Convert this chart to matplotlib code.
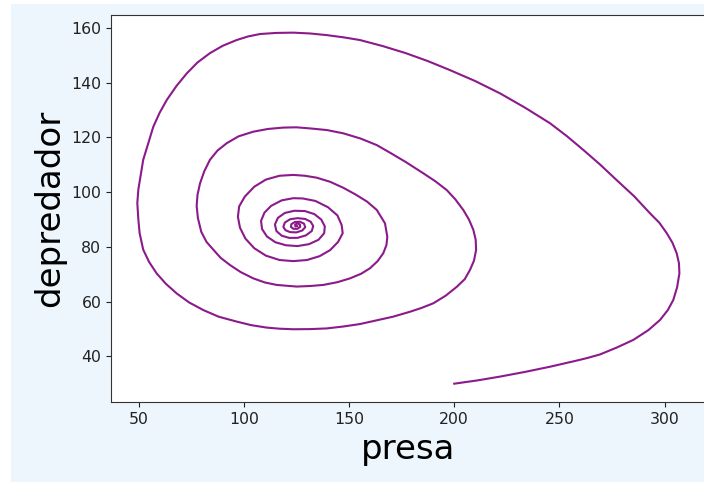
import matplotlib
matplotlib.use('Agg')
import matplotlib.pyplot as plt
from matplotlib.patches import Rectangle

# trajectory, outer turn first, then the inner spiral
presa = [200, 211, 221.8, 233.6, 245.5, 257.4, 263.3, 269.3, 277.2, 285.1, 292.3, 297.8, 301.5,
         304.1, 305.9, 307, 306.8, 305.7, 303.7, 301, 297.5, 293, 285.5, 277.2, 269.3, 261.4,
         253.5, 245.5, 233.6, 221.8, 210, 198, 187.5, 177, 166, 155.2, 147.3, 139.4, 131.5,
         123.5, 115.5, 107.7, 102,
         96.6, 90, 83.9, 78, 72.9, 68, 63.4, 60, 57, 52.2, 49.9, 49.4, 49.9, 50.5, 52.2,
         55, 58.6, 63, 68.1, 74, 80.8, 88, 96.6, 103.5, 110.9, 117, 123.5, 131.5, 139.4,
         147.3, 155.2, 171, 179, 184.5, 190.1, 196, 201.2, 205, 207.5, 209.4, 210.4, 210.2,
         209.1, 207, 204.3, 200.5, 196.4, 191, 185.3, 177, 170, 163.2, 155.5, 147.3, 139.5,
         131.5, 125, 118.8, 111.5, 104.5, 97.5, 91.9, 87.5, 83.9, 81.2,
         79.2, 78, 77.6, 78.2, 79.8, 82.3, 85.5, 89, 93.4, 98.5, 104.5, 110, 115.6,
         125.1, 131.5, 137.8, 144.5, 150.5, 155.8, 160, 163.6, 166.3, 167.8, 168.2,
         167.1, 163.2, 158.5, 153, 147.3, 141, 134.6, 129, 123.5, 117, 110.5, 105,
         100.5, 97.8, 97.2, 98.2, 100.8, 105, 110.5, 117, 123.5, 130, 136, 141, 144.8,
         147, 146.5, 144.5, 140, 134, 128, 123.5, 118, 113, 109.8, 108.2, 108.7, 111,
         115, 120, 125.5, 131, 135.5, 138.2, 138.5, 136.8, 133.5, 129,
         124, 119.5, 116.2, 114.8, 115.5, 118, 121.5, 125.5, 129.5, 132.3, 133, 131.8,
         129.2, 125.5, 122, 119.5, 118.8, 119.8, 122, 125, 127.8, 129.2, 128.6, 126.7,
         124.3, 122.6, 122.4, 123.6, 125.5, 126.8, 126.7, 125.4, 124.4, 124.5, 125.4]
depredador = [30, 31.2, 32.6, 34.3, 36.2, 38.3, 39.4, 40.7, 43.2, 46, 49.6, 53.3, 56.9,
              60.6, 65.2, 70.3, 74, 77.7, 81.5, 85, 88.8, 92.3, 98.5, 104.4, 110.1, 115.4,
              120.5, 125.2, 130.9, 136.1, 140.6, 144.6, 147.9, 150.8, 153.4, 155.6, 156.6, 157.4, 158,
              158.3, 158.2, 157.8, 156.9,
              155.6, 153.5, 150.8, 147.4, 143.4, 138.8, 133.7, 129, 123.9, 111.8, 101, 96, 90, 85, 79,
              74.5, 70.3, 66.5, 63, 59.7, 56.9, 54.5, 52.7, 51.4, 50.5, 50.1, 49.9, 49.95, 50.2,
              50.9, 51.8, 54.5, 56.3, 57.7, 59.4, 62.2, 65.4, 68.2, 71.6, 75, 78.9, 82.6,
              86.2, 90, 93.5, 97.4, 100.8, 104, 106.9, 111, 114.2, 117.2, 119.6, 121.5, 122.7,
              123.3, 123.7, 123.6, 123.1, 122.1, 120.4, 117.9, 115.2, 111.8, 107.6,
              103.2, 99, 95, 90.5, 85.5, 81.8, 79, 76, 73.4, 70.8, 68.5, 67, 66.1,
              65.5, 65.7, 66.1, 67.1, 68.5, 70.2, 72.2, 74.8, 77.7, 80.7, 83.7,
              88.6, 93.5, 96.6, 99.2, 101.6, 103.8, 105.3, 106, 106.3, 106, 104.6, 102,
              98.4, 94.8, 91, 87, 83, 79.5, 76.8, 75.2, 74.8, 75.2, 76.6, 78.8, 81.8,
              85, 88, 91.5, 94.5, 96.8, 97.7, 97.8, 97, 95, 92.5, 89.5, 86.5, 83.8,
              81.7, 80.6, 80.3, 81, 82.6, 85, 87.5, 90, 92, 93.1,
              93.2, 92.4, 90.6, 88.2, 85.8, 84.1, 83.3, 83.3, 84.2, 85.8, 87.6, 89.2,
              90.2, 90.5, 90.1, 88.9, 87.3, 86.1, 85.4, 85.3, 86, 87.2, 88.5, 89.2,
              89.1, 88.3, 87.3, 86.6, 86.6, 87.3, 88.2, 88.6, 88.1, 87.5, 87.6]

fig = plt.figure(figsize=(7.04, 4.84), dpi=100, facecolor='white')
# light blue notebook cell background, kept behind the axes
fig.patches.append(Rectangle((11 / 704, 1 - 482 / 484), 693 / 704, 478 / 484,
                             transform=fig.transFigure, facecolor='#eef6fd',
                             edgecolor='none', zorder=-10))

ax = fig.add_axes([111 / 704, 1 - 402.3 / 484, 594.7 / 704, 387.3 / 484])
ax.set_facecolor('white')
ax.plot(presa, depredador, color='#8b1a8b', lw=1.5)

ax.set_xlim(36.9, 319.5)
ax.set_ylim(23.2, 164.75)
ax.set_xticks([50, 100, 150, 200, 250, 300])
ax.set_yticks([40, 60, 80, 100, 120, 140, 160])
ax.tick_params(labelsize=11.3, colors='#222222')
for s in ax.spines.values():
    s.set_color('#333333')

ax.set_xlabel('presa', fontsize=24.5)
ax.set_ylabel('depredador', fontsize=24.5)

fig.savefig('out.png', dpi=100, facecolor=fig.get_facecolor())
